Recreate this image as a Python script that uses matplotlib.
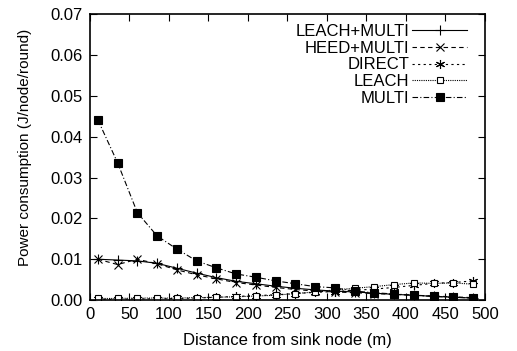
import numpy as np
import matplotlib.pyplot as plt

plt.rcParams['font.family'] = ['Liberation Sans', 'DejaVu Sans']

# distances (m)
dist = [10, 35, 60, 85, 110, 135, 160, 185, 210, 235,
        260, 285, 310, 335, 360, 385, 410, 435, 460, 485]

leach_multi = [0.0100, 0.0098, 0.0096, 0.0090, 0.0078, 0.0066, 0.0055, 0.0046, 0.0040, 0.0034,
               0.0029, 0.0025, 0.0022, 0.0020, 0.0017, 0.0014, 0.0012, 0.0009, 0.0007, 0.0005]
heed_multi = [0.0100, 0.0087, 0.0100, 0.0089, 0.0074, 0.0062, 0.0052, 0.0043, 0.0037, 0.0031,
              0.0026, 0.0022, 0.0020, 0.0018, 0.0016, 0.0014, 0.0012, 0.0010, 0.0008, 0.0006]
direct = [0.0002, 0.0002, 0.0003, 0.0003, 0.0004, 0.0005, 0.0007, 0.0009, 0.0011, 0.0013,
          0.0016, 0.0019, 0.0021, 0.0024, 0.0027, 0.0031, 0.0036, 0.0041, 0.0043, 0.0047]
leach = [0.0004, 0.0004, 0.0005, 0.0005, 0.0005, 0.0006, 0.0007, 0.0008, 0.0010, 0.0012,
         0.0016, 0.0020, 0.0025, 0.0029, 0.0033, 0.0038, 0.0042, 0.0041, 0.0042, 0.0039]
multi = [0.0441, 0.0336, 0.0214, 0.0157, 0.0125, 0.0096, 0.0079, 0.0064, 0.0056, 0.0047,
         0.0040, 0.0033, 0.0030, 0.0022, 0.0018, 0.0015, 0.0012, 0.0009, 0.0007, 0.0005]

fig = plt.figure(figsize=(5.17, 3.51), dpi=100)
ax = fig.add_axes([0.174, 0.145, 0.764, 0.815])

ax.plot(dist, leach_multi, color='black', lw=0.8, ls='-', marker='+', ms=7, mew=0.8, label='LEACH+MULTI')
ax.plot(dist, heed_multi, color='black', lw=0.8, ls=(0, (4, 3)), marker='x', ms=5.5, mew=0.8, label='HEED+MULTI')
ax.plot(dist, direct, color='black', lw=0.8, ls=(0, (2, 3)), marker=(6, 2, 0), ms=6.5, mew=0.8, label='DIRECT')
ax.plot(dist, leach, color='black', lw=0.8, ls=(0, (1, 1)), marker='s', ms=5, mew=0.8,
        mfc='white', label='LEACH')
ax.plot(dist, multi, color='black', lw=0.8, ls=(0, (5, 2, 1, 2)), marker='s', ms=5.5, mew=0.8,
        mfc='black', label='MULTI')

ax.set_xlim(0, 500)
ax.set_ylim(0, 0.07)
ax.set_xticks(np.arange(0, 501, 50))
ax.set_yticks(np.arange(0, 0.0701, 0.01))
ax.set_yticklabels(['%.2f' % v for v in np.arange(0, 0.0701, 0.01)])
ax.tick_params(direction='in', top=True, right=True, length=5, width=0.8, labelsize=12, pad=5)
for s in ax.spines.values():
    s.set_linewidth(1.2)

ax.set_xlabel('Distance from sink node (m)', fontsize=12)
ax.xaxis.set_label_coords(0.5, -0.115)
ax.set_ylabel('Power consumption (J/node/round)', fontsize=11)
ax.yaxis.set_label_coords(-0.147, 0.535)

leg = ax.legend(loc='upper right', frameon=False, markerfirst=False, fontsize=12,
                handlelength=3.3, labelspacing=0.1, borderaxespad=0.6, handletextpad=0.2,
                bbox_to_anchor=(0.998, 1.023))
for t in leg.get_texts():
    t.set_ha('right')
leg._legend_box.align = 'right'

fig.savefig('out.png', dpi=100)
